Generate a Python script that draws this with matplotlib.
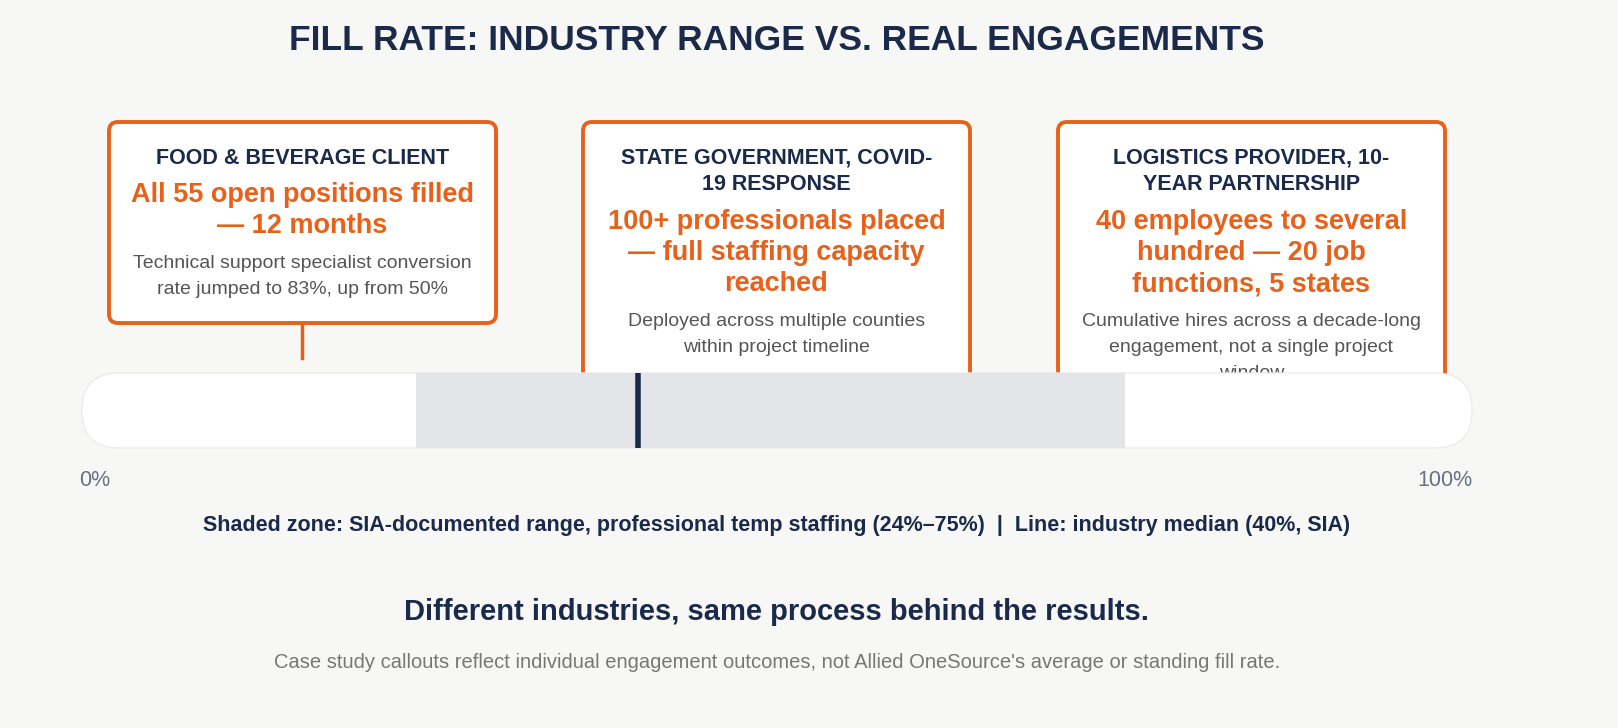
import matplotlib
matplotlib.use("Agg")
import matplotlib.pyplot as plt
from matplotlib.patches import FancyBboxPatch

plt.rcParams['font.family'] = ['Liberation Sans', 'DejaVu Sans']

NAVY = "#1b2a4a"
ORANGE = "#e8611a"
GREY = "#555555"
BG = "#f7f7f5"

# data
range_low, range_high = 24, 75
median = 40
card_headers = [["FOOD & BEVERAGE CLIENT"],
                ["STATE GOVERNMENT, COVID-", "19 RESPONSE"],
                ["LOGISTICS PROVIDER, 10-", "YEAR PARTNERSHIP"]]
card_results = [["All 55 open positions filled", "\u2014 12 months"],
                ["100+ professionals placed", "\u2014 full staffing capacity", "reached"],
                ["40 employees to several", "hundred \u2014 20 job", "functions, 5 states"]]
card_notes = [["Technical support specialist conversion", "rate jumped to 83%, up from 50%"],
              ["Deployed across multiple counties", "within project timeline"],
              ["Cumulative hires across a decade-long", "engagement, not a single project", "window"]]

W, H = 1618, 728
fig = plt.figure(figsize=(W / 100, H / 100), dpi=100, facecolor=BG)
ax = fig.add_axes([0, 0, 1, 1])
ax.set_xlim(0, W)
ax.set_ylim(H, 0)
ax.axis("off")

ax.text(777, 40, "FILL RATE: INDUSTRY RANGE VS. REAL ENGAGEMENTS", ha="center", va="center",
        fontsize=25.5, fontweight="bold", color=NAVY)

# cards
card_x = [109, 583, 1058]
card_w = 387
card_bottom = [323, 440, 440]
for i in range(3):
    x0 = card_x[i]
    cx = x0 + card_w / 2
    ax.add_patch(FancyBboxPatch((x0, 122), card_w, card_bottom[i] - 122,
                                boxstyle="round,pad=0,rounding_size=9",
                                fc="white", ec=ORANGE, lw=2.8, zorder=1))
    y = 158
    for line in card_headers[i]:
        ax.text(cx, y, line, ha="center", va="center", fontsize=15.5, fontweight="bold",
                color=NAVY, zorder=2)
        y += 27
    y += 10
    for line in card_results[i]:
        ax.text(cx, y, line, ha="center", va="center", fontsize=19.5, fontweight="bold",
                color=ORANGE, zorder=2)
        y += 31
    y += 6
    for line in card_notes[i]:
        ax.text(cx, y, line, ha="center", va="center", fontsize=14, color=GREY, zorder=2)
        y += 26
ax.plot([302, 302], [323, 358], color=ORANGE, lw=2.5, zorder=1)

# white track
bx0, bx1, by0, by1 = 82, 1472, 373, 448
ax.add_patch(FancyBboxPatch((bx0, by0), bx1 - bx0, by1 - by0,
                            boxstyle="round,pad=0,rounding_size=37",
                            fc="white", ec="#ececec", lw=1, zorder=5))

# data axis over the track
bar = fig.add_axes([bx0 / W, 1 - by1 / H, (bx1 - bx0) / W, (by1 - by0) / H])
bar.set_xlim(0, 100)
bar.set_ylim(0, 1)
bar.patch.set_alpha(0)
bar.axis("off")
bar.axvspan(range_low, range_high, color="#e4e5e9", lw=0)
bar.axvline(median, color=NAVY, lw=4)

ax.text(95, 480, "0%", ha="center", va="center", fontsize=15.5, color="#667085")
ax.text(1445, 480, "100%", ha="center", va="center", fontsize=15.5, color="#667085")

ax.text(777, 525, "Shaded zone: SIA-documented range, professional temp staffing "
        f"({range_low}%\u2013{range_high}%)  |  Line: industry median ({median}%, SIA)",
        ha="center", va="center", fontsize=15.5, fontweight="bold", color=NAVY)

ax.text(777, 612, "Different industries, same process behind the results.",
        ha="center", va="center", fontsize=21, fontweight="bold", color=NAVY)
ax.text(777, 662, "Case study callouts reflect individual engagement outcomes, "
        "not Allied OneSource's average or standing fill rate.",
        ha="center", va="center", fontsize=14.5, color="#777777")

fig.savefig("out.png", dpi=100, facecolor=BG)
